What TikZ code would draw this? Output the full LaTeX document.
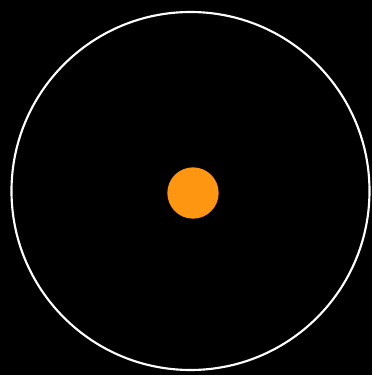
\documentclass[tikz,border=0pt]{standalone}
\usepackage{xcolor}
\usetikzlibrary{positioning}
\definecolor{sunorange}{RGB}{255,150,18}

\begin{document}
\begin{tikzpicture}[x=0.75pt, y=-0.75pt,
  orbit/.style={circle, draw=white, line width=1.6pt, inner sep=0pt, minimum size=268.5pt},
  sun/.style={circle, fill=sunorange, inner sep=0pt, minimum size=38.5pt}]
\fill[black] (0,0) rectangle (372,375);
\useasboundingbox (0,0) rectangle (372,375);
\node[orbit] (path) at (190.5,191) {};
\node[sun] (star) at (193,193) {};
\end{tikzpicture}
\end{document}
